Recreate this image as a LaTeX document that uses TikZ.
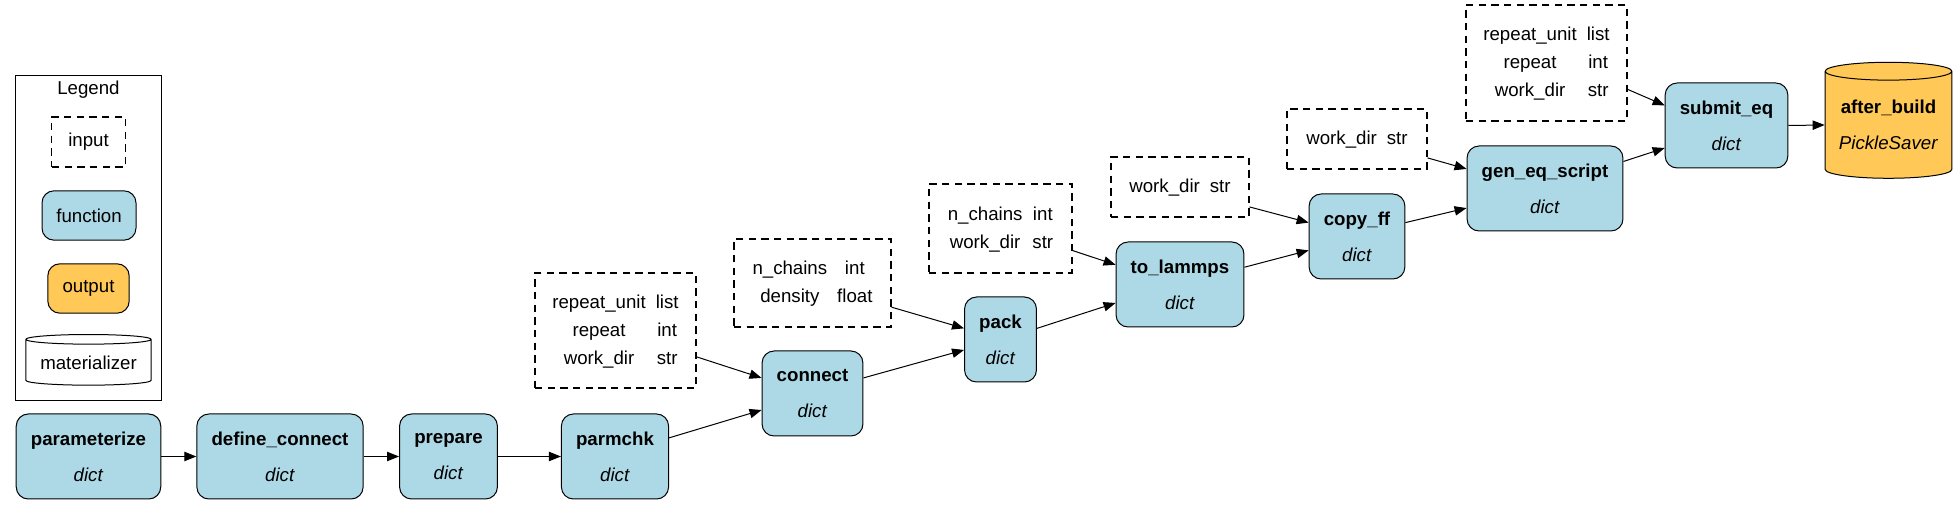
\documentclass[tikz,border=0pt]{standalone}
\usepackage{fontspec}
\setmainfont{Liberation Sans}
\usetikzlibrary{shapes.geometric,arrows.meta}
\definecolor{fnblue}{HTML}{ADD8E6}
\definecolor{outgold}{HTML}{FFC857}
\setlength{\tabcolsep}{3.75pt}
\newcommand{\fnl}[2]{\textbf{#1}\\\textit{#2}}
\tikzset{
  fn/.style={draw, rounded corners=9pt, fill=fnblue, line width=0.75pt, align=center,
    inner xsep=11pt, minimum height=63.75pt, font=\fontsize{14}{27}\selectfont},
  inp/.style={draw, dash pattern=on 5.5pt off 4pt, line width=0.8pt, inner sep=0pt,
    font=\fontsize{14}{21}\selectfont},
  store/.style={draw, cylinder, shape border rotate=90, line width=0.75pt, align=center,
    inner sep=0pt, font=\fontsize{14}{27}\selectfont},
  flow/.style={-{Triangle[length=9pt,width=7pt]}, line width=0.75pt},
}

\begin{document}
\begin{tikzpicture}[x=0.75pt, y=-0.75pt]
    \useasboundingbox (0,0) rectangle (1957,505);

    % legend
    \node[draw, line width=0.75pt, minimum width=109.5pt, minimum height=244pt] (legend) at (88.7,237.9) {};
    \node[font=\fontsize{14}{17}\selectfont] (legendtitle) at (88.5,90) {Legend};
    \node[inp, minimum width=55pt, minimum height=37.5pt] (lg_input) at (88.5,142) {input};
    \node[fn, minimum width=70.5pt, minimum height=37pt, inner xsep=0pt] (lg_function) at (89,215.5) {function};
    \node[fn, fill=outgold, minimum width=61pt, minimum height=37pt, inner xsep=0pt] (lg_output) at (88.5,288.5) {output};
    \node[store, fill=white, minimum width=94pt, minimum height=38pt, aspect=0.1] (lg_store) at (88.5,362.5) {materializer};

    % functions
    \node[fn] (parameterize) at (88.5,456.5) {\fnl{parameterize}{dict}};
    \node[fn] (define_connect) at (280,456.5) {\fnl{define\_connect}{dict}};
    \node[fn] (prepare) at (448.5,456.5) {\fnl{prepare}{dict}};
    \node[fn] (parmchk) at (615,456.5) {\fnl{parmchk}{dict}};
    \node[fn] (connect) at (812.5,393.5) {\fnl{connect}{dict}};
    \node[fn] (pack) at (1000.5,339.5) {\fnl{pack}{dict}};
    \node[fn] (to_lammps) at (1180,284.5) {\fnl{to\_lammps}{dict}};
    \node[fn] (copy_ff) at (1357,236.5) {\fnl{copy\_ff}{dict}};
    \node[fn] (gen_eq_script) at (1545,188.5) {\fnl{gen\_eq\_script}{dict}};
    \node[fn] (submit_eq) at (1726.5,125.5) {\fnl{submit\_eq}{dict}};
    \node[store, fill=outgold, minimum width=95pt, minimum height=87pt, aspect=0.18] (after_build) at (1888.5,125) {\fnl{after\_build}{PickleSaver}};

    % inputs
    \node[inp, minimum width=120.75pt, minimum height=86.25pt] (in_connect) at (615.5,330.5)
        {\begin{tabular}{cc}repeat\_unit & list\\ repeat & int\\ work\_dir & str\end{tabular}};
    \node[inp, minimum width=117.75pt, minimum height=66pt] (in_pack) at (812.5,283)
        {\begin{tabular}{cc}n\_chains & int\\ density & float\end{tabular}};
    \node[inp, minimum width=107.25pt, minimum height=66.75pt] (in_lammps) at (1000.5,228.5)
        {\begin{tabular}{cc}n\_chains & int\\ work\_dir & str\end{tabular}};
    \node[inp, minimum width=103.5pt, minimum height=45pt] (in_copy) at (1180,187)
        {\begin{tabular}{cc}work\_dir & str\end{tabular}};
    \node[inp, minimum width=105pt, minimum height=45pt] (in_gen) at (1357,139)
        {\begin{tabular}{cc}work\_dir & str\end{tabular}};
    \node[inp, minimum width=120.75pt, minimum height=87pt] (in_submit) at (1546.5,63)
        {\begin{tabular}{cc}repeat\_unit & list\\ repeat & int\\ work\_dir & str\end{tabular}};

    % edges
    \foreach \a/\b in {parameterize.east/define_connect.west, define_connect.east/prepare.west,
        prepare.east/parmchk.west, parmchk.19/connect.198, in_connect.-18/connect.163,
        connect.17/pack.196, in_pack.-17/pack.163, pack.17/to_lammps.196,
        in_lammps.-17/to_lammps.163, to_lammps.15/copy_ff.196, in_copy.-16/copy_ff.164,
        copy_ff.16/gen_eq_script.194, in_gen.-15/gen_eq_script.166,
        gen_eq_script.19/submit_eq.200, in_submit.-18/submit_eq.162, submit_eq.east/after_build.west}
    {\draw[flow] (\a) -- (\b);}

\end{tikzpicture}
\end{document}
